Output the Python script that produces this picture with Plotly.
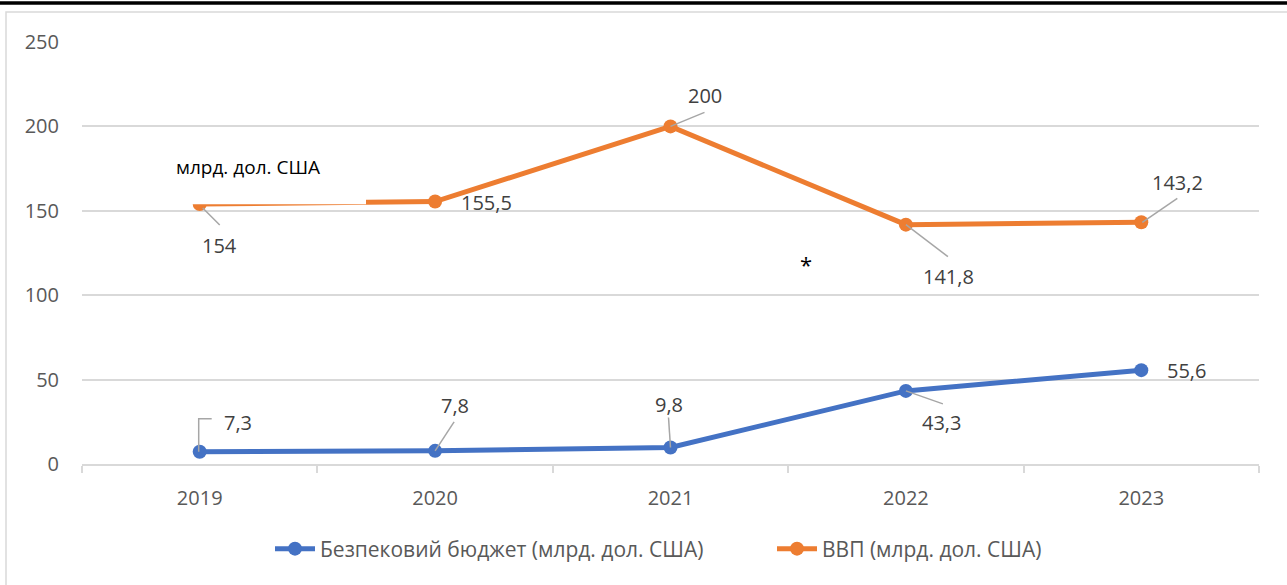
import plotly.graph_objects as go

years = ["2019", "2020", "2021", "2022", "2023"]
security_budget = [7.3, 7.8, 9.8, 43.3, 55.6]
gdp = [154, 155.5, 200, 141.8, 143.2]
name_budget = "Безпековий бюджет (млрд. дол. США)"
name_gdp = "ВВП (млрд. дол. США)"
unit_text = "млрд. дол. США"
y_ticks = [0, 50, 100, 150, 200, 250]

BLUE = "#4472C4"
ORANGE = "#ED7D31"
GRID = "#d9d9d9"
TXT = "#595959"
LBL = "#404040"
FONT = "Open Sans"

W, H = 1287, 585
ML, MR, MT, MB = 82, 28, 42, 121
PW, PH = W - ML - MR, H - MT - MB


def px(xp):
    return (xp - ML) / PW


def py(yp):
    return (H - MB - yp) / PH


fig = go.Figure()
fig.add_trace(go.Scatter(x=years, y=security_budget, name=name_budget, mode="lines+markers", showlegend=True,
                         line=dict(color=BLUE, width=5), marker=dict(size=14, color=BLUE), legend="legend"))
fig.add_trace(go.Scatter(x=years, y=gdp, name=name_gdp, mode="lines+markers", showlegend=True,
                         line=dict(color=ORANGE, width=5), marker=dict(size=14, color=ORANGE), legend="legend2"))


def fmt(v):
    return f"{v:g}".replace(".", ",")


# label placement: (xshift, yshift, xanchor), leader path in pixel offsets (y up)
gdp_lbl = [(20, -41, "center"), (24, -1, "left"), (34, 31, "center"), (43, -52, "center"), (36, 40, "center")]
gdp_lead = ["M3,-4 L20,-21", None, "M0,0 L34,14", "M0,0 L42,-32", "M1,0 L36,24"]
bud_lbl = [(38, 29, "center"), (20, 45, "center"), (-2, 43, "center"), (36, -32, "center"), (24, 0, "left")]
bud_lead = ["M-1,0 L-1,33 L12,33", "M0,0 L19,29", "M0,0 L-2,30", "M0,0 L37,-13", None]

shapes = []
# white text box covering part of the orange line (as in the original)
shapes.append(dict(type="rect", xref="paper", yref="paper", x0=px(185), x1=px(366),
                   y0=py(204.3), y1=py(150), fillcolor="white", line=dict(width=0), layer="above"))

annotations = []
for series, lbls, leads in ((gdp, gdp_lbl, gdp_lead), (security_budget, bud_lbl, bud_lead)):
    for i, (v, (dx, dy, xa), lead) in enumerate(zip(series, lbls, leads)):
        annotations.append(dict(x=i, y=v, xref="x", yref="y", text=fmt(v), showarrow=False,
                                xshift=dx, yshift=dy, xanchor=xa, yanchor="middle",
                                font=dict(family=FONT, size=20, color=LBL)))
        if lead:
            shapes.append(dict(type="path", xref="x", yref="y", xsizemode="pixel", ysizemode="pixel",
                               xanchor=i, yanchor=v, path=lead,
                               line=dict(color="#a6a6a6", width=1.5), layer="above"))

annotations.append(dict(xref="paper", yref="paper", x=px(174), y=py(167), xanchor="left", yanchor="middle",
                        text=unit_text, showarrow=False, font=dict(family=FONT, size=19, color="black")))
annotations.append(dict(xref="paper", yref="paper", x=px(806), y=py(264), xanchor="center", yanchor="middle",
                        text="*", showarrow=False, font=dict(family=FONT, size=22, color="black")))

# page frame
shapes.append(dict(type="path", xref="paper", yref="paper",
                   path=f"M{px(6)},{py(600)} L{px(6)},{py(12)} L{px(1300)},{py(12)}",
                   line=dict(color=GRID, width=1.5), layer="above"))
shapes.append(dict(type="line", xref="paper", yref="paper", x0=px(-5), x1=px(1300), y0=py(3), y1=py(3),
                   line=dict(color="black", width=3.5), layer="above"))

leg_common = dict(orientation="h", yanchor="middle", y=py(549), xanchor="left", visible=True,
                  font=dict(family=FONT, size=21, color=TXT), itemwidth=40, bgcolor="rgba(0,0,0,0)")

fig.update_layout(
    width=W, height=H, margin=dict(l=ML, r=MR, t=MT, b=MB),
    paper_bgcolor="white", plot_bgcolor="white", showlegend=True,
    font=dict(family=FONT, size=20, color=TXT),
    shapes=shapes, annotations=annotations,
    legend=dict(x=px(270), **leg_common),
    legend2=dict(x=px(772), **leg_common),
    xaxis=dict(type="category", range=[-0.5, 4.5], showgrid=False, showline=True, linecolor=GRID,
               linewidth=1.5, ticks="outside", tickson="boundaries", ticklen=7, tickcolor=GRID,
               tickwidth=1.5, tickfont=dict(family=FONT, size=20, color=TXT), ticklabelstandoff=15,
               zeroline=False),
    yaxis=dict(range=[0, 250], tickvals=y_ticks, showgrid=True, gridcolor=GRID, gridwidth=1.5,
               showline=False, zeroline=False, ticks="", ticklabelstandoff=22,
               tickfont=dict(family=FONT, size=20, color=TXT)),
)

fig.write_html("out.html", config={"displayModeBar": False},
               post_script="document.body.style.margin='0';document.body.style.overflow='hidden';")
